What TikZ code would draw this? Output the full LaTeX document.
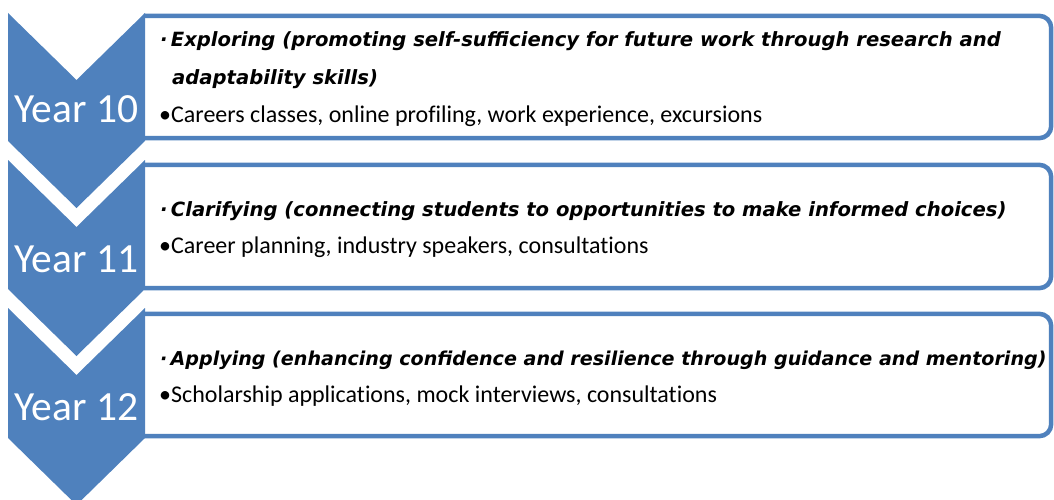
\documentclass[tikz,border=0pt]{standalone}
\usepackage{fontspec}
\setmainfont{Carlito}[Ligatures=NoCommon]
\newfontfamily\headfont{DejaVu Sans Bold Oblique}
\usetikzlibrary{positioning}
\definecolor{stageblue}{HTML}{4F81BD}

\tikzset{
  chev/.style={fill=stageblue},
  stage/.style={fill=white, minimum width=905pt, inner sep=0pt},
  border/.style={draw=stageblue, line width=4.5pt, rounded corners=12pt},
  year/.style={text=white, font=\fontsize{41.5}{44}\selectfont, anchor=base, inner sep=0pt},
  head/.style={font=\headfont\fontsize{19.6}{22}\selectfont, anchor=base west, inner sep=0pt},
  detail/.style={font=\fontsize{24}{28}\selectfont, anchor=base west, inner sep=0pt}
}

\begin{document}
\begin{tikzpicture}[x=1pt,y=-1pt]
	  \useasboundingbox (0,0) rectangle (1054,500);
	  \clip (0,0) rectangle (1054,500);

	  % boxes
	  \node[stage, minimum height=122pt] (box10) at (598.5,77) {};
	  \node[stage, minimum height=123pt] (box11) at (598.5,226.5) {};
	  \node[stage, minimum height=122pt] (box12) at (598.5,375) {};
	  \draw[border] ([xshift=-2pt]box10.north west) -- (box10.north east) -- (box10.south east) -- ([xshift=-2pt]box10.south west);
	  \draw[border] ([xshift=-2pt]box11.north west) -- (box11.north east) -- (box11.south east) -- ([xshift=-2pt]box11.south west);
	  \draw[border] ([xshift=-2pt]box12.north west) -- (box12.north east) -- (box12.south east) -- ([xshift=-2pt]box12.south west);

	  % chevrons
	  \fill[chev] (8,13) -- (76.5,80) -- (145,13) -- (145,141) -- (76.5,208) -- (8,141) -- cycle;
	  \fill[chev] (8,160) -- (76.5,227) -- (145,160) -- (145,289) -- (76.5,356) -- (8,289) -- cycle;
	  \fill[chev] (8,308) -- (76.5,375) -- (145,308) -- (145,438) -- (76.5,505) -- (8,438) -- cycle;

	  \node[year] (y10) at (76.5,123) {Year 10};
	  \node[year] (y11) at (76.5,272) {Year 11};
	  \node[year] (y12) at (76.5,420) {Year 12};

	  % texts
	  \node[head] (head10) at (160,47) {·\,Exploring (promoting self-sufficiency for future work through research and};
	  \node[head] (head10b) at (172,85) {adaptability skills)};
	  \node[detail] (work10) at (159,123) {•Careers classes, online profiling, work experience, excursions};

	  \node[head] (head11) at (160,216) {·\,Clarifying (connecting students to opportunities to make informed choices)};
	  \node[detail] (work11) at (159,253) {•Career planning, industry speakers, consultations};

	  \node[head, font=\headfont\fontsize{19.1}{22}\selectfont] (head12) at (160,365) {·\,Applying (enhancing confidence and resilience through guidance and mentoring)};
	  \node[detail] (work12) at (159,402) {•Scholarship applications, mock interviews, consultations};
\end{tikzpicture}
\end{document}
